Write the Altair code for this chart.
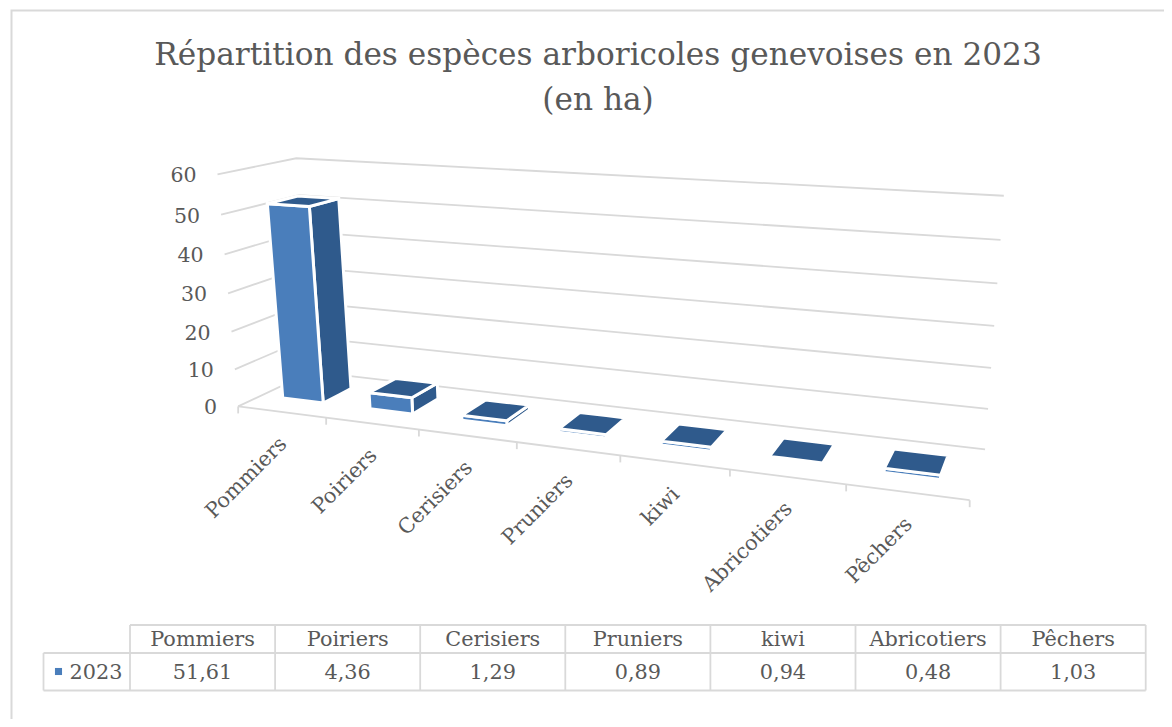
import altair as alt
import numpy as np
import pandas as pd

# --- chart values ---
CATEGORIES = ["Pommiers", "Poiriers", "Cerisiers", "Pruniers", "kiwi", "Abricotiers", "Pêchers"]
VALUES = [51.61, 4.36, 1.29, 0.89, 0.94, 0.48, 1.03]
VALUE_LABELS = ["51,61", "4,36", "1,29", "0,89", "0,94", "0,48", "1,03"]
AXIS_TICKS = [0, 10, 20, 30, 40, 50, 60]
SERIES = "2023"
TITLE = ["Répartition des espèces arboricoles genevoises en 2023", "(en ha)"]

# --- colours / font ---
FONT = "DejaVu Serif"
TXT = "#595959"
GRID = "#d9d9d9"
FRONT = "#4a7ebb"
DARK = "#2f5a8c"

# --- perspective calibration: (category position, depth, value) -> page pixel ---
CAL = [
    (0,0,0,237.5,407),(1,0,0,326,418),(2,0,0,419,429),(3,0,0,517,442),(4,0,0,620,456),
    (5,0,0,730,470),(6,0,0,846,484),(7,0,0,970,500),
    (0,0,10,234,369),(0,0,20,231.7,331),(0,0,30,228,293),(0,0,40,225,254),(0,0,50,221.7,215),(0,0,60,218,175),
    (0,1,60,295,158),(7,1,60,1004,196),(7,1,50,1001,240),(7,1,40,997,283),(7,1,30,994,326),
    (7,1,20,991,368),(7,1,10,988,409),(7,1,0,985,449),(0,1,0,313,372),
]
A, b = [], []
for u, d, h, px, py in CAL:
    A.append([u, d, h, 1, 0, 0, 0, 0, -px*u, -px*d, -px*h])
    b.append(px)
    A.append([0, 0, 0, 0, u, d, h, 1, -py*u, -py*d, -py*h])
    b.append(py)
P = np.linalg.lstsq(np.array(A, float), np.array(b, float), rcond=None)[0]
P = np.append(P, 1.0).reshape(3, 4)

def proj(u, d, h):
    v = P @ np.array([u, d, h, 1.0])
    return float(v[0]/v[2]), float(v[1]/v[2])

BAR_U = (0.25, 0.72)
BAR_D = (0.30, 0.70)

# --- helper tables ---
lines, gid = [], 0
def add_line(pts, w=1.8):
    global gid
    gid += 1
    for k, (x, y) in enumerate(pts):
        lines.append(dict(x=x, y=y, g=gid, k=k, w=w))

# outer frame (top and left only)
add_line([(11.5, 719), (11.5, 10.5), (1164, 10.5)], 2)
# walls
for t in AXIS_TICKS:
    add_line([proj(0, 0, t), proj(0, 1, t), proj(7, 1, t)])
add_line([proj(0, 0, 0), proj(7, 0, 0)])
for i in range(8):
    x, y = proj(i, 0, 0)
    add_line([(x, y), (x, y + 7)])
# table
COLS = [130 + 145.1*i for i in range(8)]
add_line([(COLS[0], 625), (COLS[-1], 625)])
add_line([(43.5, 653), (COLS[-1], 653)])
add_line([(43.5, 690.5), (COLS[-1], 690.5)])
add_line([(43.5, 653), (43.5, 690.5)])
for c in COLS:
    add_line([(c, 625), (c, 690.5)])
lines = pd.DataFrame(lines)

def quad(pts, gid_, color):
    xs = sorted(set(round(p[0], 3) for p in pts))
    rows = []
    n = len(pts)
    for x in xs:
        ys = []
        for j in range(n):
            (x0, y0), (x1, y1) = pts[j], pts[(j+1) % n]
            lo, hi = min(x0, x1), max(x0, x1)
            if lo - 0.002 <= x <= hi + 0.002:
                if abs(x1 - x0) < 1e-6:
                    ys += [y0, y1]
                else:
                    ys.append(y0 + (y1-y0)*(x-x0)/(x1-x0))
        rows.append(dict(x=x, y=min(ys), y2=max(ys), g=gid_, c=color))
    return rows

faces = []
for i, val in enumerate(VALUES):
    u0, u1 = i + BAR_U[0], i + BAR_U[1]
    d0, d1 = BAR_D
    front = [proj(u0,d0,0), proj(u1,d0,0), proj(u1,d0,val), proj(u0,d0,val)]
    side = [proj(u1,d0,0), proj(u1,d1,0), proj(u1,d1,val), proj(u1,d0,val)]
    top = [proj(u0,d0,val), proj(u1,d0,val), proj(u1,d1,val), proj(u0,d1,val)]
    faces += quad(side, f"{i:02d}a", DARK) + quad(front, f"{i:02d}b", FRONT) + quad(top, f"{i:02d}c", DARK)
faces = pd.DataFrame(faces)

ax_lab = pd.DataFrame([dict(x=proj(0,0,t)[0]-21, y=proj(0,0,t)[1]+2, t=str(t)) for t in AXIS_TICKS])
cat_lab = pd.DataFrame([dict(x=proj(i+.5,0,0)[0]+2, y=proj(i+.5,0,0)[1]+29, t=c) for i, c in enumerate(CATEGORIES)])
centers = [(COLS[i]+COLS[i+1])/2 for i in range(7)]
tab_lab = pd.DataFrame(
    [dict(x=centers[i], y=640, t=c) for i, c in enumerate(CATEGORIES)] +
    [dict(x=centers[i], y=672.5, t=v) for i, v in enumerate(VALUE_LABELS)] +
    [dict(x=96, y=672.5, t=SERIES)])
title_df = pd.DataFrame([dict(x=598, y=56, t=TITLE[0]), dict(x=598, y=101, t=TITLE[1])])
key_df = pd.DataFrame([dict(x=58.5, y=671.5)])

xs = alt.Scale(domain=[8, 1164], range=[0, 1156], nice=False, zero=False)
ys = alt.Scale(domain=[719, 8], nice=False, zero=False)
X = alt.X("x:Q", scale=xs, axis=None)
Y = alt.Y("y:Q", scale=ys, axis=None)

line_l = alt.Chart(lines).mark_line(color=GRID, strokeCap="butt", interpolate="linear").encode(
    x=X, y=Y, detail="g:N", order="k:Q", strokeWidth=alt.StrokeWidth("w:Q", scale=None))
face_l = alt.Chart(faces).mark_area(stroke="white", strokeWidth=3, interpolate="linear").encode(
    x=X, y=Y, y2="y2:Q", detail="g:N", color=alt.Color("c:N", scale=None))
def text(df, size, **kw):
    return alt.Chart(df).mark_text(font=FONT, fontSize=size, color=TXT, baseline="middle", **kw).encode(
        x=X, y=Y, text="t:N")
key_l = alt.Chart(key_df).mark_square(size=50, color=FRONT, opacity=1).encode(x=X, y=Y)

chart = alt.layer(
    line_l, face_l,
    text(ax_lab, 20.5, align="right"),
    text(cat_lab, 20.8, align="right", angle=315),
    text(tab_lab, 20.8, align="center"),
    text(title_df, 31.2, align="center"),
    key_l,
).properties(width=1156, height=711, padding=0, background="white",
             autosize=alt.AutoSizeParams(type="none")
).configure_view(strokeWidth=0)

chart.save("out.html", embed_options={"renderer": "svg", "actions": False})
